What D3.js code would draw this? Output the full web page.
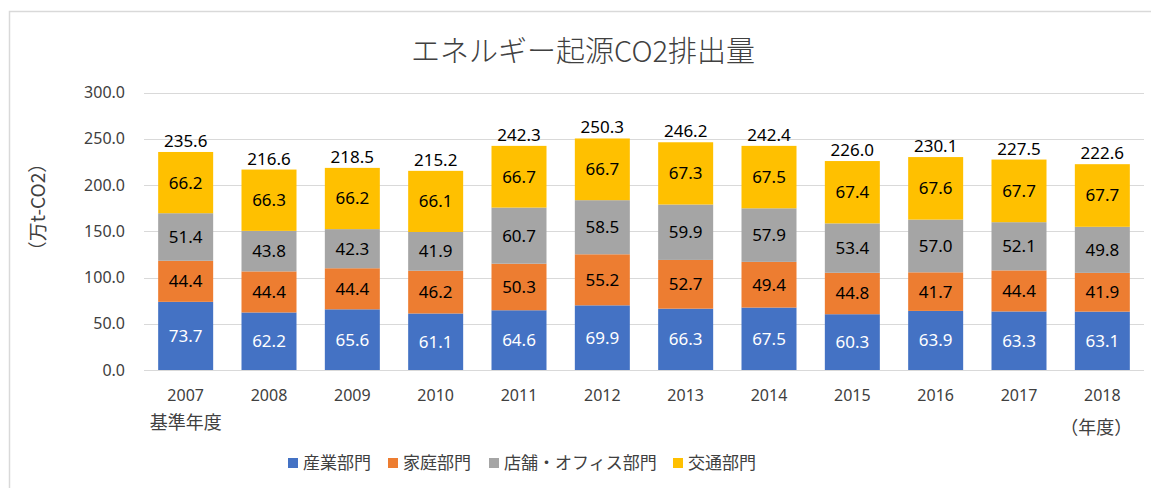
<!DOCTYPE html>
<html><head><meta charset="utf-8">
<script src="https://cdn.jsdelivr.net/npm/d3@7"></script>
<style>body{margin:0;background:#fff}svg{display:block}</style>
</head><body><svg id="c" width="1151" height="488"></svg>
<script>
const years = ["2007","2008","2009","2010","2011","2012","2013","2014","2015","2016","2017","2018"];
const seriesNames = ["産業部門","家庭部門","店舗・オフィス部門","交通部門"];
const industry   = [73.7,62.2,65.6,61.1,64.6,69.9,66.3,67.5,60.3,63.9,63.3,63.1];
const household  = [44.4,44.4,44.4,46.2,50.3,55.2,52.7,49.4,44.8,41.7,44.4,41.9];
const commercial = [51.4,43.8,42.3,41.9,60.7,58.5,59.9,57.9,53.4,57.0,52.1,49.8];
const transport  = [66.2,66.3,66.2,66.1,66.7,66.7,67.3,67.5,67.4,67.6,67.7,67.7];
const totals     = [235.6,216.6,218.5,215.2,242.3,250.3,246.2,242.4,226.0,230.1,227.5,222.6];
const yTicks = [0,50,100,150,200,250,300];
const colors = ["#4472C4","#ED7D31","#A5A5A5","#FFC000"];
const labelColors = ["#fff","#000","#000","#000"];

const svg = d3.select("#c");
const font = "'Noto Sans CJK JP','Noto Sans',sans-serif";
const numFont = "'Noto Sans','Liberation Sans',sans-serif";

svg.append("rect").attr("x",9.5).attr("y",11.5).attr("width",1200).attr("height",600)
  .attr("fill","none").attr("stroke","#D9D9D9").attr("stroke-width",1.5);

const x = d3.scaleBand().domain(years).range([144,1144]).paddingInner(0.34).paddingOuter(0.17);
const y = d3.scaleLinear().domain([0,300]).range([370,92.5]);

// gridlines
svg.append("g").selectAll("line").data(yTicks).join("line")
  .attr("x1",144).attr("x2",1144).attr("y1",d=>Math.round(y(d))+0.5).attr("y2",d=>Math.round(y(d))+0.5)
  .attr("stroke","#D9D9D9").attr("stroke-width",1);

// y labels
svg.append("g").selectAll("text").data(yTicks).join("text")
  .attr("x",125).attr("y",d=>y(d)).attr("dy","0.35em").attr("text-anchor","end")
  .attr("font-family",numFont).attr("font-size",16).attr("fill","#404040")
  .text(d=>d3.format(".1f")(d));

const data = years.map((yr,i)=>({year:yr, "産業部門":industry[i], "家庭部門":household[i], "店舗・オフィス部門":commercial[i], "交通部門":transport[i]}));
const stack = d3.stack().keys(seriesNames)(data);

const gs = svg.append("g").selectAll("g").data(stack).join("g").attr("fill",(d,i)=>colors[i]);
gs.selectAll("rect").data(d=>d).join("rect")
  .attr("x",d=>x(d.data.year)).attr("width",x.bandwidth())
  .attr("y",d=>y(d[1])).attr("height",d=>y(d[0])-y(d[1]));

svg.append("g").selectAll("g").data(stack).join("g").each(function(s,si){
  d3.select(this).selectAll("text").data(s).join("text")
    .attr("x",d=>x(d.data.year)+x.bandwidth()/2)
    .attr("y",d=>(y(d[0])+y(d[1]))/2).attr("dy","0.35em")
    .attr("text-anchor","middle").attr("font-family",numFont).attr("font-size",17)
    .attr("fill",labelColors[si])
    .text(d=>d3.format(".1f")(d.data[s.key]));
});

// totals
svg.append("g").selectAll("text").data(years).join("text")
  .attr("x",d=>x(d)+x.bandwidth()/2)
  .attr("y",(d,i)=>y(d3.sum(stack,s=>s[i][1]-s[i][0]))-5)
  .attr("text-anchor","middle").attr("font-family",numFont).attr("font-size",17).attr("fill","#000")
  .text((d,i)=>d3.format(".1f")(totals[i]));

// x labels
svg.append("g").selectAll("text").data(years).join("text")
  .attr("x",d=>x(d)+x.bandwidth()/2).attr("y",395).attr("dy","0.35em")
  .attr("text-anchor","middle").attr("font-family",numFont).attr("font-size",16).attr("fill","#404040")
  .text(d=>d);
svg.append("text").attr("x",x("2007")+x.bandwidth()/2).attr("y",423).attr("dy","0.35em")
  .attr("text-anchor","middle").attr("font-family",font).attr("font-size",18).attr("fill","#404040").text("基準年度");
svg.append("text").attr("x",x("2018")+x.bandwidth()/2-6).attr("y",428).attr("dy","0.35em")
  .attr("text-anchor","middle").attr("font-family",font).attr("font-size",18).attr("fill","#404040").text("（年度）");

// y axis title
svg.append("text").attr("transform","translate(38,207) rotate(-90)").attr("dy","0.35em")
  .attr("text-anchor","middle").attr("font-family",font).attr("font-size",19).attr("fill","#404040").text("（万t-CO2）");

// title
svg.append("text").attr("x",583).attr("y",52).attr("dy","0.35em").attr("text-anchor","middle")
  .attr("font-family",font).attr("font-size",29).attr("font-weight",300).attr("fill","#404040").text("エネルギー起源CO2排出量");

// legend
const legX = [288,388,489,673];
const lg = svg.append("g").selectAll("g").data(seriesNames).join("g")
  .attr("transform",(d,i)=>`translate(${legX[i]},463)`);
lg.append("rect").attr("x",0).attr("y",-5).attr("width",10).attr("height",10).attr("fill",(d,i)=>colors[i]);
lg.append("text").attr("x",15).attr("y",0).attr("dy","0.35em").attr("font-family",font).attr("font-size",17)
  .attr("fill","#404040").text(d=>d);
</script></body></html>
